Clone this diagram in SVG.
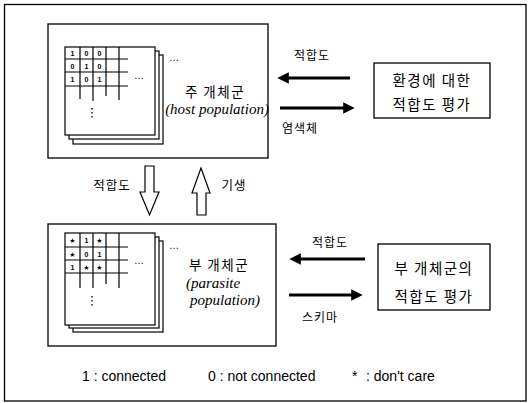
<svg xmlns="http://www.w3.org/2000/svg" width="529" height="403" viewBox="0 0 529 403">
<style>
.box{fill:#fff;stroke:#000;stroke-width:1.3}
.sheet{fill:#fff;stroke:#000;stroke-width:1.2}
.grid{stroke:#000;stroke-width:1.2;fill:none}
.ko{font-family:"Noto Sans CJK KR",sans-serif;fill:#000}
.cell{font-family:"Liberation Sans",Arial,sans-serif;font-size:7px;font-weight:bold;text-anchor:middle;fill:#000}
.star{font-family:"DejaVu Sans",sans-serif;font-size:7px;text-anchor:middle;fill:#000}
.dots{font-family:"Liberation Sans",Arial,sans-serif;font-size:10px;fill:#000}
.en{font-family:"Liberation Serif","Times New Roman",serif;font-style:italic;font-size:15px;fill:#000}
.leg{font-family:"Liberation Sans",Arial,sans-serif;font-size:14px;fill:#000}
.arr{stroke:#000;stroke-width:3.2;fill:none}
.hollow{fill:#fff;stroke:#000;stroke-width:1.2}
</style>
<defs>
<marker id="ah" markerWidth="4" markerHeight="4" refX="1.2" refY="2" orient="auto" markerUnits="strokeWidth">
<path d="M0,0.2 L3.6,2 L0,3.8 Z" fill="#000"/>
</marker>
</defs>
<rect x="4.5" y="4.5" width="521.5" height="396.5" fill="none" stroke="#000" stroke-width="1.3"/>

<g id="host">
<rect class="box" x="48" y="24" width="220" height="134"/>
<rect class="sheet" x="73" y="55" width="90" height="89"/>
<rect class="sheet" x="69" y="51" width="90" height="88"/>
<rect class="sheet" x="65" y="47" width="90" height="88"/>
<path class="grid" d="M65,59H128M65,72H128M65,86H128M80,47V99M93,47V101M106,47V96M119,47V100"/>
<text class="cell" x="72.5" y="56">1</text><text class="cell" x="86.5" y="56">0</text><text class="cell" x="99.5" y="56">0</text>
<text class="cell" x="72.5" y="68.5">0</text><text class="cell" x="86.5" y="68.5">1</text><text class="cell" x="99.5" y="68.5">0</text>
<text class="cell" x="72.5" y="82">1</text><text class="cell" x="86.5" y="82">0</text><text class="cell" x="99.5" y="82">1</text>
<text class="dots" x="169" y="61">…</text>
<text class="dots" x="134" y="79">…</text>
<path d="M92,108V109.5M92,112V113.5M92,116V117.5" stroke="#000" stroke-width="1.3"/>
<text class="ko" x="215" y="97" font-size="13.5" letter-spacing="1.5" text-anchor="middle">주 개체군</text>
<text class="en" x="217" y="114" text-anchor="middle">(host population)</text>
</g>

<g id="parasite">
<rect class="box" x="48" y="224" width="228" height="122"/>
<rect class="sheet" x="73" y="241" width="90" height="91"/>
<rect class="sheet" x="69" y="237" width="90" height="91"/>
<rect class="sheet" x="65" y="233" width="90" height="92"/>
<path class="grid" d="M65,247H128M65,260H128M65,273H128M80,233V288M93,233V288M106,233V284M119,233V288"/>
<text class="star" x="72.5" y="243">★</text><text class="cell" x="86.5" y="243">1</text><text class="star" x="99.5" y="243">★</text>
<text class="star" x="72.5" y="256.5">★</text><text class="cell" x="86.5" y="256.5">0</text><text class="cell" x="99.5" y="256.5">1</text>
<text class="cell" x="72.5" y="269.5">1</text><text class="star" x="86.5" y="269.5">★</text><text class="star" x="99.5" y="269.5">★</text>
<text class="dots" x="169" y="249">…</text>
<text class="dots" x="134" y="264">…</text>
<path d="M92,296V297.5M92,300V301.5M92,304V305.5" stroke="#000" stroke-width="1.3"/>
<text class="ko" x="219" y="270" font-size="13.5" letter-spacing="1.5" text-anchor="middle">부 개체군</text>
<text class="en" x="186" y="288">(parasite</text>
<text class="en" x="190" y="305">population)</text>
</g>

<g id="env-eval">
<rect class="box" x="374" y="63" width="116" height="55"/>
<text class="ko" x="432" y="86" font-size="14.5" letter-spacing="1.5" text-anchor="middle">환경에 대한</text>
<text class="ko" x="432" y="110" font-size="14.5" letter-spacing="1.5" text-anchor="middle">적합도 평가</text>
</g>

<g id="parasite-eval">
<rect class="box" x="378" y="244" width="112" height="66"/>
<text class="ko" x="434" y="274" font-size="14.5" letter-spacing="1.5" text-anchor="middle">부 개체군의</text>
<text class="ko" x="434" y="302" font-size="14.5" letter-spacing="1.5" text-anchor="middle">적합도 평가</text>
</g>

<g id="connectors">
<line class="arr" x1="350" y1="78" x2="285" y2="78" marker-end="url(#ah)"/>
<line class="arr" x1="280" y1="108" x2="347" y2="108" marker-end="url(#ah)"/>
<line class="arr" x1="365" y1="259" x2="297" y2="259" marker-end="url(#ah)"/>
<line class="arr" x1="289" y1="295" x2="355" y2="295" marker-end="url(#ah)"/>
<polygon class="hollow" points="145,166 154,166 154,192 159,192 149.5,215 140,192 145,192"/>
<polygon class="hollow" points="197,215 206,215 206,193 210,193 201,168 192,193 197,193"/>
<text class="ko" x="312" y="60" font-size="12" letter-spacing="1" text-anchor="middle">적합도</text>
<text class="ko" x="300" y="133" font-size="12" letter-spacing="1" text-anchor="middle">염색체</text>
<text class="ko" x="330" y="247" font-size="12" letter-spacing="1" text-anchor="middle">적합도</text>
<text class="ko" x="320" y="322" font-size="12" letter-spacing="1" text-anchor="middle">스키마</text>
<text class="ko" x="112" y="190" font-size="12.5" letter-spacing="1" text-anchor="middle">적합도</text>
<text class="ko" x="234" y="190" font-size="12.5" letter-spacing="1" text-anchor="middle">기생</text>
</g>

<g id="legend">
<text class="leg" x="82" y="381">1 : connected</text>
<text class="leg" x="208" y="381">0 : not connected</text>
<text class="leg" x="352" y="381">*<tspan x="366">: don't care</tspan></text>
</g>
</svg>
